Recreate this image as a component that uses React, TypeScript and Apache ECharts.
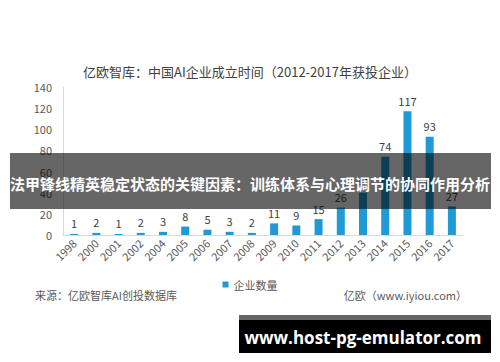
import React, { useEffect, useRef } from "react";
import * as echarts from "echarts";

const categories = ["1998","2000","2001","2002","2004","2005","2006","2007","2008","2009","2010","2011","2012","2013","2014","2015","2016","2017"];
const companyCounts = [1,2,1,2,3,8,5,3,2,11,9,15,26,40,74,117,93,27];
const yTicks = { min: 0, max: 140, interval: 20 };

const FONT = "'Noto Sans CJK SC', 'Noto Sans', sans-serif";

export default function App() {
  const ref = useRef<HTMLDivElement>(null);
  useEffect(() => {
    document.body.style.margin = "0";
    const chart = echarts.init(ref.current!, null, { renderer: "svg" });
    chart.setOption({
      animation: false,
      backgroundColor: "#ffffff",
      textStyle: { fontFamily: FONT },
      title: {
        text: "亿欧智库：中国AI企业成立时间（2012-2017年获投企业）",
        left: "center",
        top: 60,
        textStyle: { fontSize: 13, fontWeight: "normal", color: "#404040", fontFamily: FONT },
      },
      legend: {
        data: ["企业数量"],
        left: "center",
        top: 274,
        icon: "rect",
        itemWidth: 6,
        itemHeight: 6,
        itemGap: 4,
        textStyle: { fontSize: 11, color: "#595959", fontFamily: FONT },
      },
      grid: { left: 63, right: 37, top: 87, bottom: 127, containLabel: false },
      xAxis: {
        type: "category",
        data: categories,
        axisLine: { lineStyle: { color: "#d9d9d9" } },
        axisTick: { show: false },
        axisLabel: { rotate: 45, fontSize: 11, color: "#595959", margin: 6, interval: 0, fontFamily: FONT },
      },
      yAxis: {
        type: "value",
        min: yTicks.min,
        max: yTicks.max,
        interval: yTicks.interval,
        axisLine: { show: true, lineStyle: { color: "#d9d9d9" } },
        axisTick: { show: false },
        splitLine: { show: false },
        axisLabel: { fontSize: 11, color: "#595959", margin: 11, fontFamily: FONT },
      },
      series: [
        {
          name: "企业数量",
          type: "bar",
          data: companyCounts,
          barWidth: 8,
          itemStyle: { color: "#1e9bd7" },
          label: { show: true, position: "top", distance: 5, fontSize: 11, color: "#404040", fontFamily: FONT },
        },
      ],
      graphic: [
        {
          type: "text",
          left: 35,
          top: 289,
          style: { text: "来源：亿欧智库AI创投数据库", fontSize: 11, fill: "#595959", fontFamily: FONT },
        },
        {
          type: "text",
          right: 33,
          top: 289,
          style: { text: "亿欧（www.iyiou.com）", fontSize: 11, fill: "#595959", fontFamily: FONT },
        },
        {
          type: "rect",
          shape: { x: 10, y: 153, width: 481, height: 56 },
          style: { fill: "rgba(0,0,0,0.6)" },
          z: 100,
        },
        {
          type: "text",
          x: 250,
          y: 183,
          z: 101,
          style: {
            text: "法甲锋线精英稳定状态的关键因素：训练体系与心理调节的协同作用分析",
            fontSize: 15,
            fontWeight: "bold",
            fill: "#ffffff",
            align: "center",
            verticalAlign: "middle",
            fontFamily: FONT,
          },
        },
        {
          type: "rect",
          shape: { x: 239, y: 315, width: 252, height: 38 },
          style: { fill: "rgba(0,0,0,0.6)" },
          z: 100,
        },
        {
          type: "rect",
          shape: { x: 239, y: 320, width: 252, height: 33 },
          style: { fill: "#000000" },
          z: 101,
        },
        {
          type: "text",
          x: 363,
          y: 337,
          z: 102,
          style: {
            text: "www.host-pg-emulator.com",
            fontSize: 17,
            fontWeight: "bold",
            fill: "#ffffff",
            align: "center",
            verticalAlign: "middle",
            fontFamily: "'Open Sans', 'DejaVu Sans', sans-serif",
          },
        },
      ],
    });
    return () => chart.dispose();
  }, []);
  return <div ref={ref} style={{ width: 500, height: 362, position: "absolute", left: 0, top: 0 }} />;
}
